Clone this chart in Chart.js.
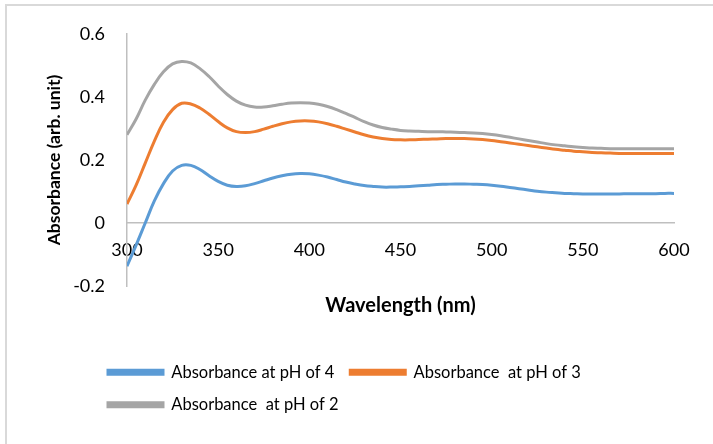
<!DOCTYPE html>
<html>
<head>
<meta charset="utf-8">
<script src="https://cdn.jsdelivr.net/npm/chart.js@4"></script>
<style>
  html, body { margin: 0; padding: 0; background: #fff; }
  #wrap { position: relative; width: 713px; height: 444px; }
  #frame { position: absolute; left: 5px; top: 4px; right: -2px; bottom: -2px; border-left: 2px solid #d9d9d9; border-top: 2px solid #d9d9d9; }
  canvas { position: absolute; left: 0; top: 0; }
</style>
</head>
<body>
<div id="wrap">
  <div id="frame"></div>
  <canvas id="specChart" width="713" height="444"></canvas>
</div>
<script>
var wavelengths = [300, 305, 310, 315, 320, 325, 330, 335, 340, 345, 350, 355, 360, 365, 370, 375, 380, 385, 390, 395,
  400, 405, 410, 415, 420, 425, 430, 435, 440, 445, 450, 455, 460, 465, 470, 475, 480, 485, 490, 495,
  500, 505, 510, 515, 520, 525, 530, 535, 540, 545, 550, 555, 560, 565, 570, 575, 580, 585, 590, 595, 600];

var absPH4 = [-0.137, -0.07, 0.0, 0.07, 0.125, 0.165, 0.183, 0.183, 0.170, 0.150, 0.132, 0.120, 0.116, 0.118, 0.125, 0.134, 0.143, 0.150, 0.155, 0.157,
  0.156, 0.152, 0.146, 0.138, 0.130, 0.124, 0.119, 0.116, 0.114, 0.114, 0.115, 0.116, 0.118, 0.120, 0.122, 0.123, 0.124, 0.124, 0.123, 0.122,
  0.120, 0.117, 0.113, 0.109, 0.105, 0.101, 0.098, 0.096, 0.094, 0.093, 0.092, 0.092, 0.092, 0.092, 0.092, 0.093, 0.093, 0.093, 0.093, 0.094, 0.094];

var absPH3 = [0.06, 0.12, 0.19, 0.26, 0.32, 0.36, 0.38, 0.378, 0.365, 0.345, 0.322, 0.302, 0.290, 0.287, 0.290, 0.298, 0.307, 0.315, 0.321, 0.324,
  0.324, 0.321, 0.315, 0.307, 0.298, 0.289, 0.280, 0.273, 0.268, 0.265, 0.264, 0.264, 0.265, 0.266, 0.267, 0.268, 0.268, 0.268, 0.267, 0.265,
  0.262, 0.258, 0.254, 0.250, 0.246, 0.242, 0.238, 0.234, 0.231, 0.228, 0.226, 0.224, 0.223, 0.222, 0.221, 0.221, 0.221, 0.221, 0.221, 0.221, 0.221];

var absPH2 = [0.28, 0.33, 0.39, 0.44, 0.48, 0.505, 0.513, 0.508, 0.49, 0.465, 0.435, 0.408, 0.387, 0.374, 0.368, 0.368, 0.372, 0.377, 0.381, 0.382,
  0.381, 0.377, 0.370, 0.360, 0.348, 0.335, 0.322, 0.311, 0.303, 0.298, 0.294, 0.292, 0.291, 0.290, 0.290, 0.289, 0.288, 0.287, 0.286, 0.284,
  0.281, 0.277, 0.272, 0.267, 0.262, 0.257, 0.252, 0.248, 0.245, 0.242, 0.240, 0.238, 0.237, 0.236, 0.236, 0.236, 0.236, 0.236, 0.236, 0.236, 0.236];

var seriesNames = ['Absorbance at pH of 4', 'Absorbance  at pH of 3', 'Absorbance  at pH of 2'];
var seriesColors = ['#5b9bd5', '#ed7d31', '#a5a5a5'];

function toPoints(ys) {
  return wavelengths.map(function(w, i) { return { x: w, y: ys[i] }; });
}

// legend sits a bit in from the left edge like the original
var legendShift = {
  id: 'legendShift',
  afterLayout: function(chart) {
    chart.legend.left = 92;
  }
};

document.addEventListener('DOMContentLoaded', function() {
  var ctx = document.getElementById('specChart').getContext('2d');
  Chart.defaults.font.family = 'Lato, "Liberation Sans", sans-serif';
  Chart.defaults.color = '#000';

  var sets = [absPH4, absPH3, absPH2].map(function(ys, i) {
    return {
      label: seriesNames[i],
      data: toPoints(ys),
      borderColor: seriesColors[i],
      backgroundColor: seriesColors[i],
      borderWidth: 3,
      pointRadius: 0,
      tension: 0.4,
      xAxisID: 'x',
      yAxisID: 'y'
    };
  });

  new Chart(ctx, {
    type: 'line',
    data: { datasets: sets },
    plugins: [legendShift],
    options: {
      responsive: false,
      animation: false,
      layout: { padding: { left: 0, right: 39, top: 34, bottom: 21 } },
      scales: {
        x: {
          type: 'linear',
          axis: 'x',
          position: { y: 0 },
          min: 300,
          max: 600,
          ticks: { stepSize: 50, padding: 16, font: { size: 18 } },
          grid: { display: false, drawTicks: false },
          border: { display: true, color: '#bfbfbf', width: 1.5 }
        },
        x2: {
          type: 'linear',
          axis: 'x',
          position: 'bottom',
          min: 300,
          max: 600,
          ticks: { display: false },
          grid: { display: false, drawTicks: false },
          border: { display: false },
          title: { display: true, text: 'Wavelength (nm)', font: { size: 20, weight: 'bold' }, padding: { top: 0, bottom: 30 } },
          afterFit: function(s) { s.height = 62; }
        },
        y: {
          type: 'linear',
          position: 'left',
          min: -0.2,
          max: 0.6,
          ticks: {
            stepSize: 0.2,
            padding: 22,
            font: { size: 18 },
            callback: function(v) { return String(Math.round(v * 10) / 10); }
          },
          grid: { display: false, drawTicks: false },
          border: { display: true, color: '#bfbfbf', width: 1.5 },
          title: { display: true, text: 'Absorbance (arb. unit)', font: { size: 17.5, weight: 'bold' }, padding: { top: 44, bottom: 0 } },
          afterFit: function(s) { s.width = 127; }
        }
      },
      plugins: {
        legend: {
          position: 'bottom',
          align: 'start',
          labels: {
            boxWidth: 55,
            boxHeight: 4,
            padding: 16,
            font: { size: 16.5 },
            color: '#000'
          }
        },
        tooltip: { enabled: false }
      }
    }
  });
});
</script>
</body>
</html>
